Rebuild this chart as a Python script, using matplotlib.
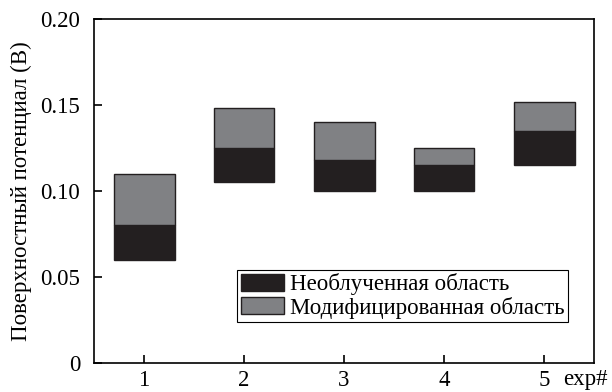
import matplotlib
matplotlib.use("Agg")
import matplotlib.pyplot as plt

plt.rcParams['font.family'] = ['Liberation Serif', 'DejaVu Serif']

experiments = [1, 2, 3, 4, 5]
bottom_vals = [0.060, 0.105, 0.100, 0.100, 0.115]
unirradiated = [0.080, 0.125, 0.118, 0.115, 0.135]
modified = [0.110, 0.148, 0.140, 0.125, 0.152]

black = "#231f20"
grey = "#808184"
fs = 16.5

fig = plt.figure(figsize=(6.12, 3.92), dpi=100)
ax = fig.add_axes([94/612, 1 - 363/392, 500/612, 344/392])

h1 = [u - b for u, b in zip(unirradiated, bottom_vals)]
h2 = [m - u for m, u in zip(modified, unirradiated)]
ax.bar(experiments, h1, bottom=bottom_vals, width=0.61, color=black,
       edgecolor=black, linewidth=1, label="Необлученная область")
ax.bar(experiments, h2, bottom=unirradiated, width=0.61, color=grey,
       edgecolor=black, linewidth=1, label="Модифицированная область")

ax.set_xlim(0.5, 5.5)
ax.set_ylim(0, 0.20)
ax.set_xticks(experiments)
ax.set_yticks([0, 0.05, 0.10, 0.15, 0.20])
ax.set_yticklabels(["0", "0.05", "0.10", "0.15", "0.20"])
ax.tick_params(direction="in", length=6, width=1.2, labelsize=fs)
ax.tick_params(axis="y", pad=10)
ax.tick_params(axis="x", pad=5)
for s in ax.spines.values():
    s.set_linewidth(1.2)

ax.set_ylabel("Поверхностный потенциал (В)", fontsize=fs, labelpad=6)
ax.text(5.19, -0.0098, "exp#", fontsize=fs, ha="left", va="center",
        clip_on=False)

leg = ax.legend(loc="lower right", bbox_to_anchor=(0.948, 0.119),
                fontsize=fs, frameon=True, fancybox=False, framealpha=1,
                edgecolor="black", borderpad=0.15, labelspacing=0.05,
                handlelength=1.87, handleheight=0.75, handletextpad=0.27,
                borderaxespad=0)
leg.get_frame().set_linewidth(0.8)

fig.savefig("out.png", dpi=100)
